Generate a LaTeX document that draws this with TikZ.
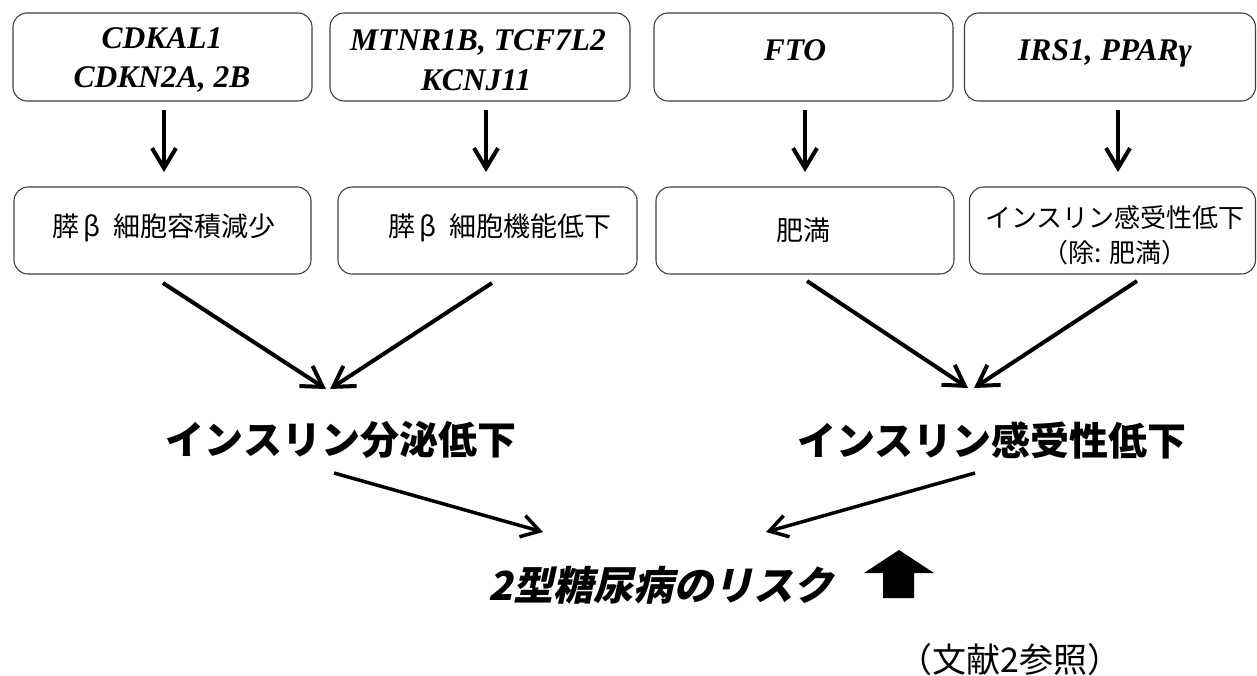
\documentclass[tikz,border=0pt]{standalone}
\usepackage{fontspec}
\setmainfont{Liberation Serif}
\newfontfamily\jp{Noto Sans CJK JP}
\newfontfamily\jpsl{Noto Sans CJK JP}[FakeSlant=0.22]
\usetikzlibrary{arrows.meta}
\begin{document}
\begin{tikzpicture}[x=1pt,y=-1pt,
  box/.style={draw=black!75, line width=1.1pt, rounded corners=14pt, inner sep=0pt, minimum height=88pt},
  gene/.style={font=\fontsize{31.5}{31.5}\selectfont\bfseries\itshape, anchor=base, inner sep=0pt},
  mid/.style={font=\jp\fontsize{26}{35}\selectfont, align=center, inner sep=0pt},
  big/.style={font=\jp\bfseries\fontsize{39}{39}\selectfont, inner sep=0pt},
  arr/.style={line width=4pt, -{Straight Barb[length=20pt,width=24pt]}},
  arrs/.style={line width=3.5pt, -{Straight Barb[length=18pt,width=22pt]}},
]
\useasboundingbox (0,0) rectangle (1257,675);

% top boxes
\node[box, minimum width=299pt] (t1) at (162.5,57) {};
\node[box, minimum width=300pt] (t2) at (480,57) {};
\node[box, minimum width=299pt] (t3) at (803.5,57) {};
\node[box, minimum width=291pt] (t4) at (1110,57) {};

\node[gene] (g1a) at (162,48) {CDKAL1};
\node[gene] (g1b) at (162,87) {CDKN2A, 2B};
\node[gene] (g2a) at (478,50) {MTNR1B, TCF7L2};
\node[gene] (g2b) at (476,90) {KCNJ11};
\node[gene] (g3) at (795,60) {FTO};
\node[gene] (g4) at (1105,60) {IRS1, PPARγ};

% middle boxes
\node[box, minimum width=297pt, minimum height=87pt] (m1) at (162.5,230.5) {};
\node[box, minimum width=299pt, minimum height=87pt] (m2) at (487.5,230.5) {};
\node[box, minimum width=298pt, minimum height=87pt] (m3) at (805,230.5) {};
\node[box, minimum width=286pt, minimum height=87pt] (m4) at (1112.5,230.5) {};

\node[mid, font=\jp\fontsize{27}{35}\selectfont] (m1t) at (164,228) {膵\hspace{4pt}β\hspace{12pt}細胞容積減少};
\node[mid, font=\jp\fontsize{27}{35}\selectfont] (m2t) at (500,228) {膵\hspace{4pt}β\hspace{12pt}細胞機能低下};
\node[mid, font=\jp\fontsize{27}{35}\selectfont] (m3t) at (803,230) {肥満};
\node[mid] (m4t) at (1115,235.5) {インスリン感受性低下\\（除: 肥満）};

% named arrow ends
\coordinate (a1s) at (164,110); \coordinate (a1e) at (164,172);
\coordinate (a2s) at (486,110); \coordinate (a2e) at (486,172);
\coordinate (a3s) at (805,110); \coordinate (a3e) at (805,172);
\coordinate (a4s) at (1118,110); \coordinate (a4e) at (1118,172);
\draw[arr] (a1s) -- (a1e);
\draw[arr] (a2s) -- (a2e);
\draw[arr] (a3s) -- (a3e);
\draw[arr] (a4s) -- (a4e);

\coordinate (d1s) at (163,283); \coordinate (d1e) at (326,389);
\coordinate (d2s) at (492,283); \coordinate (d2e) at (330,389);
\coordinate (d3s) at (807,281); \coordinate (d3e) at (968,388);
\coordinate (d4s) at (1137,281); \coordinate (d4e) at (974,388);
\draw[arr] (d1s) -- (d1e);
\draw[arr] (d2s) -- (d2e);
\draw[arr] (d3s) -- (d3e);
\draw[arr] (d4s) -- (d4e);

% big texts
\node[big] (ins1) at (341,440) {インスリン分泌低下};
\node[big] (ins2) at (992,440) {インスリン感受性低下};

\coordinate (l1s) at (334,473); \coordinate (l1e) at (543,532);
\coordinate (l2s) at (975,473); \coordinate (l2e) at (766,532);
\draw[arrs] (l1s) -- (l1e);
\draw[arrs] (l2s) -- (l2e);

\node[font=\jpsl\bfseries\fontsize{40}{40}\selectfont, inner sep=0pt] (risk) at (661,585) {2型糖尿病のリスク};

% up block arrow
\fill (864,573) -- (899,550) -- (934,573) -- (914,573) -- (914,598) -- (883,598) -- (883,573) -- cycle;

\node[font=\jp\fontsize{34}{34}\selectfont, inner sep=0pt] (ref) at (1010,660) {（文献2参照）};
\end{tikzpicture}
\end{document}
